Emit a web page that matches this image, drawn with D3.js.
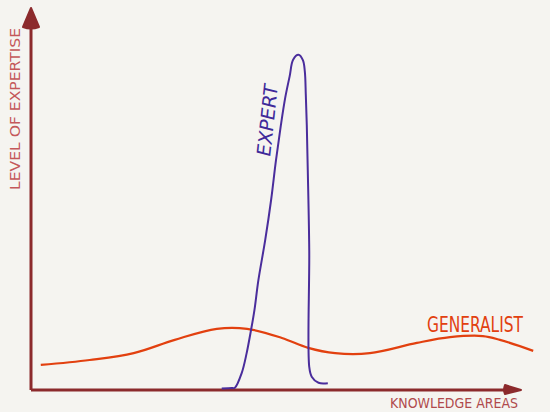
<!DOCTYPE html>
<html>
<head>
<meta charset="utf-8">
<script src="https://cdn.jsdelivr.net/npm/d3@7"></script>
<style>
  html, body { margin: 0; padding: 0; background: #f5f4f0; }
  svg { display: block; }
</style>
</head>
<body>
<svg id="chart" width="550" height="412"></svg>
<script>
// knowledge area position (0-100) vs level of expertise (0-100)
var generalistX = [2, 12, 21, 29.4, 38, 44.2, 51.3, 56.7, 62.2, 69.3, 78.9, 85.7, 92.4, 95.9, 102.7];
var generalistY = [6.6, 7.9, 9.7, 13.2, 16.1, 16.1, 13.7, 11.1, 9.7, 9.7, 12.4, 13.9, 14.2, 13.2, 10.3];

var expertX = [39.0, 41.1, 41.7, 43.1, 44.1, 45.0, 45.7, 46.5, 47.9, 49.1, 50.1, 51.1, 52.0, 52.9, 53.6, 54.7,
    55.6, 56.0, 56.2, 56.4, 56.6, 56.9, 56.9, 57.4, 58.8, 60.7];
var expertY = [0.4, 0.5, 0.6, 4.5, 9.7, 15.8, 21.1, 28.9, 39.5, 50.0, 60.5, 69.7, 77.0, 82.6, 86.9, 88.2,
    86.8, 83.8, 77.6, 69.7, 57.9, 36.8, 6.1, 3.5, 1.9, 1.8];

var seriesNames = ["EXPERT", "GENERALIST"];
var xTitle = "KNOWLEDGE AREAS";
var yTitle = "LEVEL OF EXPERTISE";

var svg = d3.select("#chart");

var x = d3.scaleLinear().domain([0, 100]).range([31, 520]);
var y = d3.scaleLinear().domain([0, 100]).range([390, 10]);

var axisColor = "#8c2a2c";

// axes (no ticks, just the hand drawn lines)
svg.append("g")
    .attr("transform", "translate(0," + y(0) + ")")
    .call(d3.axisBottom(x).tickValues([]).tickSizeOuter(0))
    .select(".domain")
    .attr("stroke", axisColor)
    .attr("stroke-width", 3)
    .attr("d", "M" + x(0) + ",0H" + (x(100) - 12));

svg.append("g")
    .attr("transform", "translate(" + x(0) + ",0)")
    .call(d3.axisLeft(y).tickValues([]).tickSizeOuter(0))
    .select(".domain")
    .attr("stroke", axisColor)
    .attr("stroke-width", 3)
    .attr("d", "M0," + y(0) + "V" + (y(100) + 16));

// arrow heads
var ax = x(0), ay = y(100);
svg.append("path")
    .attr("d", "M" + ax + "," + (ay - 2) + " L" + (ax + 8) + "," + (ay + 17) +
        " Q" + ax + "," + (ay + 20) + " " + (ax - 8) + "," + (ay + 17) + " Z")
    .attr("fill", axisColor)
    .attr("stroke", axisColor)
    .attr("stroke-linejoin", "round")
    .attr("stroke-width", 2);

var bx = x(100), by = y(0);
svg.append("path")
    .attr("d", "M" + (bx + 1) + "," + by + " L" + (bx - 15) + "," + (by - 5) +
        " Q" + (bx - 17) + "," + by + " " + (bx - 15) + "," + (by + 4) + " Z")
    .attr("fill", axisColor)
    .attr("stroke", axisColor)
    .attr("stroke-linejoin", "round")
    .attr("stroke-width", 2);

var line = d3.line()
    .x(function(d) { return x(d[0]); })
    .y(function(d) { return y(d[1]); })
    .curve(d3.curveCatmullRom.alpha(0.5));

svg.append("path")
    .datum(d3.zip(generalistX, generalistY))
    .attr("d", line)
    .attr("fill", "none")
    .attr("stroke", "#e2400f")
    .attr("stroke-width", 2.2);

svg.append("path")
    .datum(d3.zip(expertX, expertY))
    .attr("d", line)
    .attr("fill", "none")
    .attr("stroke", "#4a2d9c")
    .attr("stroke-width", 2);

// labels, thin strokes like a felt pen
var hand = "'DejaVu Sans ExtraLight', 'DejaVu Sans Condensed', 'DejaVu Sans', sans-serif";

svg.append("text")
    .attr("transform", "translate(20,109) rotate(-90)")
    .attr("text-anchor", "middle")
    .attr("font-family", hand)
    .attr("font-size", 14)
    .attr("textLength", 162)
    .attr("lengthAdjust", "spacingAndGlyphs")
    .attr("fill", "#c4585a")
    .text(yTitle);

svg.append("text")
    .attr("x", 454)
    .attr("y", 408)
    .attr("text-anchor", "middle")
    .attr("font-family", hand)
    .attr("font-size", 14)
    .attr("textLength", 128)
    .attr("lengthAdjust", "spacingAndGlyphs")
    .attr("fill", "#b04a4c")
    .text(xTitle);

svg.append("text")
    .attr("transform", "translate(" + x(48.9) + "," + y(61.1) + ") rotate(-84) skewX(-8)")
    .attr("font-family", hand)
    .attr("font-size", 19)
    .attr("textLength", 72)
    .attr("lengthAdjust", "spacingAndGlyphs")
    .attr("fill", "#3f2a9a")
    .text(seriesNames[0]);

svg.append("text")
    .attr("x", 475)
    .attr("y", 332)
    .attr("text-anchor", "middle")
    .attr("font-family", hand)
    .attr("font-size", 22)
    .attr("textLength", 96)
    .attr("lengthAdjust", "spacingAndGlyphs")
    .attr("fill", "#e2400f")
    .text(seriesNames[1]);
</script>
</body>
</html>
